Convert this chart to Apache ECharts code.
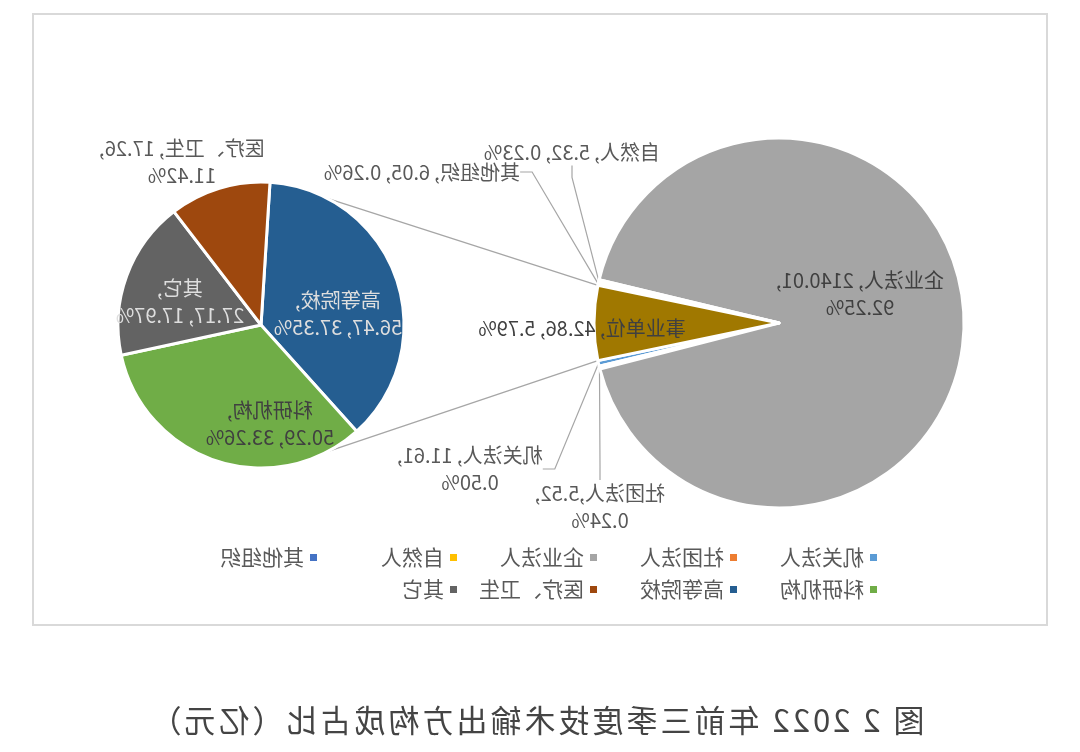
<!DOCTYPE html>
<html>
<head>
<meta charset="utf-8">
<title>2022年前三季度技术输出方构成占比</title>
<script src="https://cdn.jsdelivr.net/npm/echarts@6/dist/echarts.min.js"></script>
<style>
html, body { margin: 0; padding: 0; background: #fff; }
/* the reference picture is mirrored left-right, so the whole page is flipped */
#page { position: relative; width: 1080px; height: 752px; transform: scaleX(-1); }
#chart { position: absolute; left: 0; top: 0; width: 1080px; height: 752px; }
#caption { position: absolute; left: 9px; top: 703px; width: 1070px; text-align: center;
  font-family: "Noto Sans CJK SC", sans-serif; font-size: 31px; line-height: 31px;
  letter-spacing: 3px; color: #444; white-space: nowrap; }
</style>
</head>
<body>
<div id="page">
  <div id="chart"></div>
  <div id="caption">图 2 2022 年前三季度技术输出方构成占比（亿元）</div>
</div>
<script>
// 技术输出方（亿元）
var mainNames = ['机关法人', '社团法人', '企业法人', '自然人', '其他组织', '事业单位'];
var mainValues = [11.61, 5.52, 2140.01, 5.32, 6.05, 42.86];
var mainPcts = ['0.50%', '0.24%', '92.25%', '0.23%', '0.26%', '5.79%'];

// 事业单位 细分（子饼图）
var subNames = ['高等院校', '科研机构', '其它', '医疗、卫生'];
var subValues = [56.47, 50.29, 27.17, 17.26];
var subPcts = ['37.35%', '33.26%', '17.97%', '11.42%'];

// legend rows
var legendRow1 = ['机关法人', '社团法人', '企业法人', '自然人', '其他组织'];
var legendRow2 = ['科研机构', '高等院校', '医疗、卫生', '其它'];

var FONT = '"Noto Sans CJK SC", sans-serif';
var colors = {
  '机关法人': '#5b9bd5', '社团法人': '#ed7d31', '企业法人': '#a5a5a5',
  '自然人': '#ffc000', '其他组织': '#4472c4', '事业单位': '#a07800',
  '高等院校': '#255e91', '科研机构': '#70ad47', '其它': '#636363', '医疗、卫生': '#9e480e'
};
var labelColors = { '高等院校': '#dedede', '其它': '#dedede' };

// geometry of the two pies
var bigCenter = [301, 323], bigR = 185;
var smallCenter = [819, 325], smallR = 143;
var linkAngle = 62;

// label centres (px), same order as the data
var mainLabelPos = [[610, 469], [480, 507], [220, 294], [508, 152], [658, 172], [498, 328]];
var subLabelPos = [[742, 314], [810, 424], [900, 302], [898, 162]];
// where the label text breaks: 'pct' = before percent, 'name' = after name, '' = one line
var mainBreak = ['pct', 'pct', 'pct', '', '', ''];
var subBreak = ['name', 'name', 'name', 'pct'];

// legend grid (Excel lays legend entries out in fixed columns)
var legendCols = [201, 341, 481, 621, 761];
var legendRowTop = [547, 579];

// pie-of-pie: the 事业单位 slice is sized by the secondary pie total (as Excel does)
var subTotal = 0;
for (var i = 0; i < subValues.length; i++) subTotal += subValues[i];
var mainTotal = subTotal;
for (var i = 0; i < mainValues.length; i++) {
  if (mainNames[i] !== '事业单位') mainTotal += mainValues[i];
}
var halfSweep = subTotal / mainTotal * 180;

function labelText(name, value, pct, brk) {
  var sep = name === '社团法人' ? ',' : ', ';
  if (brk === 'name') return name + ',\n' + value.toFixed(2) + ', ' + pct;
  if (brk === 'pct') return name + sep + value.toFixed(2) + ',\n' + pct;
  return name + sep + value.toFixed(2) + ', ' + pct;
}

var mainData = mainNames.map(function (n, i) {
  var small = n !== '企业法人' && n !== '事业单位';
  return {
    name: n,
    value: n === '事业单位' ? subTotal : mainValues[i],
    itemStyle: { color: colors[n] },
    label: { position: small ? 'outside' : 'inside', color: small ? '#595959' : '#404040' },
    labelLine: { show: small }
  };
});
var subData = subNames.map(function (n, i) {
  return {
    name: n,
    value: subValues[i],
    itemStyle: { color: colors[n] },
    label: { position: n === '医疗、卫生' ? 'outside' : 'inside', color: labelColors[n] || (n === '医疗、卫生' ? '#595959' : '#404040') },
    labelLine: { show: false }
  };
});

function polar(c, r, deg) {
  var a = deg * Math.PI / 180;
  return [c[0] + r * Math.cos(a), c[1] - r * Math.sin(a)];
}
var bigTop = polar(bigCenter, bigR, halfSweep);
var bigBottom = polar(bigCenter, bigR, -halfSweep);
var smallTop = polar(smallCenter, smallR, 180 - linkAngle);
var smallBottom = polar(smallCenter, smallR, 180 + linkAngle);

// one legend component per entry so the columns line up
var legends = [];
[legendRow1, legendRow2].forEach(function (row, r) {
  row.forEach(function (name, c) {
    legends.push({
      left: legendCols[c], top: legendRowTop[r], padding: 0,
      icon: 'rect', itemWidth: 9, itemHeight: 9,
      selectedMode: false,
      textStyle: { fontFamily: FONT, fontSize: 21, color: '#595959' },
      data: [name]
    });
  });
});

var chart = echarts.init(document.getElementById('chart'), null, { renderer: 'canvas' });
chart.setOption({
  backgroundColor: '#fff',
  animation: false,
  textStyle: { fontFamily: FONT },
  legend: legends,
  graphic: [
    { type: 'rect', shape: { x: 33, y: 14, width: 1014, height: 611 },
      style: { fill: 'none', stroke: '#d9d9d9', lineWidth: 2 }, z: 0 },
    { type: 'line', shape: { x1: bigTop[0], y1: bigTop[1], x2: smallTop[0], y2: smallTop[1] },
      style: { stroke: '#a6a6a6', lineWidth: 1.3 }, z: 1 },
    { type: 'line', shape: { x1: bigBottom[0], y1: bigBottom[1], x2: smallBottom[0], y2: smallBottom[1] },
      style: { stroke: '#a6a6a6', lineWidth: 1.3 }, z: 1 }
  ],
  series: [
    {
      name: '技术输出方',
      type: 'pie',
      center: bigCenter,
      radius: bigR,
      startAngle: 360 - halfSweep,
      clockwise: true,
      avoidLabelOverlap: false,
      emphasis: { disabled: true },
      itemStyle: { borderColor: '#fff', borderWidth: 3 },
      label: {
        fontFamily: FONT, fontSize: 20, lineHeight: 27, align: 'center',
        formatter: function (p) {
          var i = p.dataIndex;
          return labelText(mainNames[i], mainValues[i], mainPcts[i], mainBreak[i]);
        }
      },
      labelLine: { length: 10, length2: 12, lineStyle: { color: '#a6a6a6', width: 1.2 } },
      labelLayout: function (p) {
        var pos = mainLabelPos[p.dataIndex];
        return { x: pos[0], y: pos[1], align: 'center', verticalAlign: 'middle' };
      },
      data: mainData
    },
    {
      name: '事业单位',
      type: 'pie',
      center: smallCenter,
      radius: smallR,
      startAngle: 93.6,
      clockwise: false,
      avoidLabelOverlap: false,
      emphasis: { disabled: true },
      itemStyle: { borderColor: '#fff', borderWidth: 3 },
      label: {
        fontFamily: FONT, fontSize: 20, lineHeight: 27, align: 'center',
        formatter: function (p) {
          var i = p.dataIndex;
          return labelText(subNames[i], subValues[i], subPcts[i], subBreak[i]);
        }
      },
      labelLayout: function (p) {
        var pos = subLabelPos[p.dataIndex];
        return { x: pos[0], y: pos[1], align: 'center', verticalAlign: 'middle' };
      },
      data: subData
    }
  ]
});
</script>
</body>
</html>
